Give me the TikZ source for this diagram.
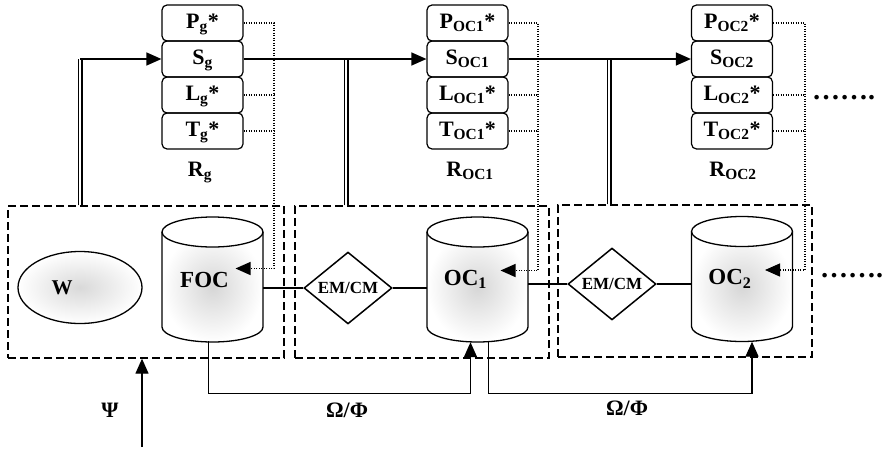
\documentclass[tikz,border=0pt]{standalone}
\usepackage{fontspec}
\setmainfont{Liberation Serif}
\usetikzlibrary{shapes.geometric, arrows.meta, calc}

\newcommand{\bsz}[1]{\fontsize{#1}{#1}\selectfont\bfseries}

\begin{document}
\begin{tikzpicture}[x=1pt, y=-1pt,
  conn/.style={line width=1.3pt},
  tip/.style={-{Triangle[length=15pt, width=13pt]}},
  dbl/.style={double, double distance=2.6pt, line width=1.2pt},
  dotl/.style={line width=1.3pt, dash pattern=on 1.1pt off 1.4pt},
  grp/.style={draw, line width=1.3pt, dash pattern=on 8pt off 4pt, inner sep=0pt, minimum height=152pt},
  cell/.style={draw, rounded corners=5pt, line width=1.2pt, minimum width=81pt, minimum height=36pt,
    inner sep=0pt, font=\bsz{22}, text height=12pt, text depth=2pt},
  lbl/.style={font=\bsz{22}, inner sep=0pt},
  dia/.style={draw, diamond, line width=1.5pt, minimum width=88pt, minimum height=63pt, inner sep=0pt,
    font=\bsz{17}},
  cyltext/.style={minimum width=101pt, minimum height=125pt, inner sep=0pt, font=\bsz{23}},
  store/.pic={
    \shade[inner color=gray!32, outer color=white]
      (-50.5,-47.5) -- (-50.5,47.5) arc[start angle=180, end angle=0, x radius=50.5, y radius=15]
      -- (50.5,-47.5) arc[start angle=0, end angle=180, x radius=50.5, y radius=15] -- cycle;
    \draw[line width=1.3pt] (0,-47.5) ellipse[x radius=50.5, y radius=15];
    \draw[line width=1.3pt] (-50.5,-47.5) -- (-50.5,47.5)
      arc[start angle=180, end angle=0, x radius=50.5, y radius=15] -- (50.5,-47.5);
  },
]
\fill[white] (0,0) rectangle (882,450);
\useasboundingbox (0,0) rectangle (882,450);

% group frames
\node[grp, minimum width=276pt] (box1) at (146,282) {};
\node[grp, minimum width=254pt] (box2) at (422,282) {};
\node[grp, minimum width=254pt] (box3) at (685,281) {};

% record stacks
\node[cell] (pg) at (202.5,23) {P\textsubscript{g}*};
\node[cell] (sg) at (202.5,59) {S\textsubscript{g}};
\node[cell] (lg) at (202.5,95) {L\textsubscript{g}*};
\node[cell] (tg) at (202.5,131) {T\textsubscript{g}*};

\node[cell] (po1) at (467.5,23) {P\textsubscript{OC1}*};
\node[cell] (so1) at (467.5,59) {S\textsubscript{OC1}};
\node[cell] (lo1) at (467.5,95) {L\textsubscript{OC1}*};
\node[cell] (to1) at (467.5,131) {T\textsubscript{OC1}*};

\node[cell] (po2) at (732,23) {P\textsubscript{OC2}*};
\node[cell] (so2) at (732,59) {S\textsubscript{OC2}};
\node[cell] (lo2) at (732,95) {L\textsubscript{OC2}*};
\node[cell] (to2) at (732,131) {T\textsubscript{OC2}*};

\node[lbl, anchor=base] (rg) at (200,176) {R\textsubscript{g}};
\node[lbl, anchor=base] (ro1) at (470,176) {R\textsubscript{OC1}};
\node[lbl, anchor=base] (ro2) at (733,176) {R\textsubscript{OC2}};

% stores and converters
\node[draw, ellipse, line width=1.3pt, minimum width=124pt, minimum height=72pt, inner sep=0pt,
  inner color=gray!30, outer color=white, font=\bsz{21}] (w) at (80,287.5) {W\hspace*{36pt}};
\pic at (212.5,279.5) {store};
\pic at (477.5,279.5) {store};
\pic at (742,279) {store};
\node[cyltext] (foc) at (212.5,279.5) {FOC\hspace*{16pt}};
\node[cyltext] (oc1) at (477.5,279.5) {OC\textsubscript{1}\hspace*{24pt}};
\node[cyltext] (oc2) at (742,279) {OC\textsubscript{2}\hspace*{24pt}};
\node[dia] (em1) at (348,288) {EM/CM};
\node[dia] (em2) at (612,284) {EM/CM};

\draw[conn] (em1.west) -- (em1.west -| foc.east);
\draw[conn] (em1.east) -- (em1.east -| oc1.west);
\draw[conn] (em2.west) -- (em2.west -| oc1.east);
\draw[conn] (em2.east) -- (em2.east -| oc2.west);

% state flow along the top
\coordinate (j1) at (80,0);
\coordinate (j2) at (346,0);
\coordinate (j3) at (609,0);
\draw[dbl] (j1 |- box1.north) -- (j1 |- sg.west);
\draw[dbl] (j2 |- box2.north) -- (j2 |- sg.west);
\draw[dbl] (j3 |- box3.north) -- (j3 |- sg.west);
\draw[conn, tip] (j1 |- sg.west) -- (sg.west);
\draw[conn, tip] (sg.east) -- (so1.west);
\draw[conn, tip] (so1.east) -- (so2.west);

% dotted feedback into the stores
\coordinate (v1) at (274,0);
\coordinate (v2) at (538,0);
\coordinate (v3) at (805,0);
\coordinate (fin1) at ($(foc.center)+(23,-11)$);
\coordinate (fin2) at ($(oc1.center)+(23,-9)$);
\coordinate (fin3) at ($(oc2.center)+(23,-9)$);
\draw[dotl, tip] (pg.east) -| (v1 |- fin1) -- (fin1);
\draw[dotl] (lg.east) -- (lg.east -| v1);
\draw[dotl] (tg.east) -- (tg.east -| v1);
\draw[dotl, tip] (po1.east) -| (v2 |- fin2) -- (fin2);
\draw[dotl] (lo1.east) -- (lo1.east -| v2);
\draw[dotl] (to1.east) -- (to1.east -| v2);
\draw[dotl, tip] (po2.east) -| (v3 |- fin3) -- (fin3);
\draw[dotl] (lo2.east) -- (lo2.east -| v3);
\draw[dotl] (to2.east) -- (to2.east -| v3);

% bottom links
\draw[conn, tip] ($(foc.south)+(-4,-1)$) -- ++(0,52) -| ($(oc1.south)+(-7,0)$);
\draw[conn, tip] ($(oc1.south)+(11,0)$) -- ++(0,51) -| ($(oc2.south)+(10,0)$);
\node[lbl] (of1) at (347,410) {Ω/Φ};
\node[lbl] (of2) at (627,408) {Ω/Φ};

% external input
\coordinate (psi0) at (142,447);
\draw[conn, tip] (psi0) -- (psi0 |- box1.south);
\node[lbl] (psi) at (110,410) {Ψ};

% continuation marks
\node[anchor=base west, font=\bsz{28}, inner sep=0pt] (more1) at (812,99) {…….};
\node[anchor=base west, font=\bsz{28}, inner sep=0pt] (more2) at (820,277) {…….};
\end{tikzpicture}
\end{document}
